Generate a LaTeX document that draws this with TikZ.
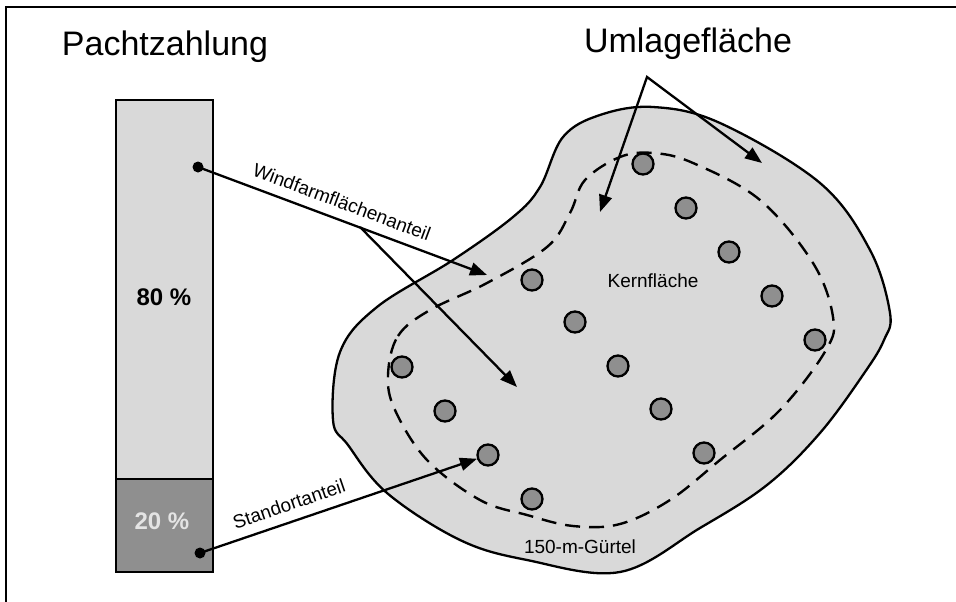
\documentclass[tikz,border=0pt]{standalone}
\usepackage{fontspec}
\setmainfont{Liberation Sans}
\usetikzlibrary{arrows.meta}
\definecolor{lightfill}{HTML}{D9D9D9}
\definecolor{darkfill}{HTML}{8F8F8F}
\definecolor{pale}{HTML}{E4E4E4}
\begin{document}
\begin{tikzpicture}[x=1pt,y=-1pt,
  turbine/.style={circle,draw,line width=2.3pt,fill=darkfill,minimum size=21pt,inner sep=0pt},
  dotnode/.style={circle,fill=black,minimum size=11pt,inner sep=0pt},
  arr/.style={line width=2.3pt,-{Triangle[length=17pt,width=13pt]}},
  small/.style={font=\fontsize{19}{22}\selectfont},
  big/.style={font=\fontsize{34}{40}\selectfont},
  pct/.style={font=\fontsize{24}{28}\selectfont\bfseries}]
\useasboundingbox (0,0) rectangle (956,602);
% frame
\draw[line width=2.2pt] (6,602) -- (6,7) -- (956,7);
% titles
\node[big] (ttl1) at (165,47) {Pachtzahlung};
\node[big] (ttl2) at (688,44) {Umlagefläche};
% bar
\draw[line width=2.6pt,fill=lightfill] (116,100) rectangle (213,479);
\draw[line width=2.6pt,fill=darkfill] (116,479) rectangle (213,572);
\node[pct] (p80) at (164,297) {80 \%};
\node[pct,text=pale] (p20) at (162,521) {20 \%};
% blob
\draw[line width=2.3pt,fill=lightfill] plot[smooth cycle,tension=0.6] coordinates {
  (333,420) (340,352) (377,307) (453,260) (513,217) (540,187) (563,137)
  (600,115) (653,107) (720,123) (820,183) (870,250) (890,313) (884,340)
  (865,372) (820,433) (767,485) (700,528) (620,572) (527,560) (460,540)
  (387,493) (348,445)};
% dashed belt
\draw[line width=2.4pt,dash pattern=on 15pt off 9pt] plot[smooth cycle,tension=0.6] coordinates {
  (388,375) (398,336) (430,310) (487,283) (547,247) (570,213) (585,180)
  (620,157) (653,153) (693,163) (760,200) (813,263) (833,317) (826,350)
  (780,410) (720,460) (670,500) (620,524) (573,526) (527,515) (480,500)
  (427,460) (395,410)};
\node[small] (kern) at (653,281) {Kernfläche};
\node[small] (guertel) at (580,547) {150-m-Gürtel};
% turbines
\foreach \n/\x/\y in {1/643/164,2/686/208,3/729/252,4/772/296,5/815/340,
  6/532/280,7/575/322,8/618/366,9/661/409,10/704/453,
  11/402/367,12/445/411,13/488/455,14/532/499}
  \node[turbine] (t\n) at (\x,\y) {};
% dots
\node[dotnode] (d1) at (198,167) {};
\node[dotnode] (d2) at (200,553) {};
% Windfarmflaechenanteil
\coordinate (w1) at (487,275);
\coordinate (wb) at (360,227);
\coordinate (w2) at (517,387);
\draw[arr] (d1.center) -- (w1);
\draw[arr] (wb) -- (w2);
\node[small,rotate=-20.5] (lw) at (342,202) {Windfarmflächenanteil};
% Standortanteil
\draw[arr] (d2.center) -- (t13);
\node[small,rotate=18.9] (ls) at (289,504) {Standortanteil};
% Umlageflaeche arrows
\coordinate (ua) at (647,77);
\coordinate (ul) at (600,212);
\coordinate (ur) at (762,163);
\draw[line width=2.3pt,line join=miter,{Triangle[length=17pt,width=13pt]}-{Triangle[length=17pt,width=13pt]}] (ul) -- (ua) -- (ur);
\end{tikzpicture}
\end{document}
